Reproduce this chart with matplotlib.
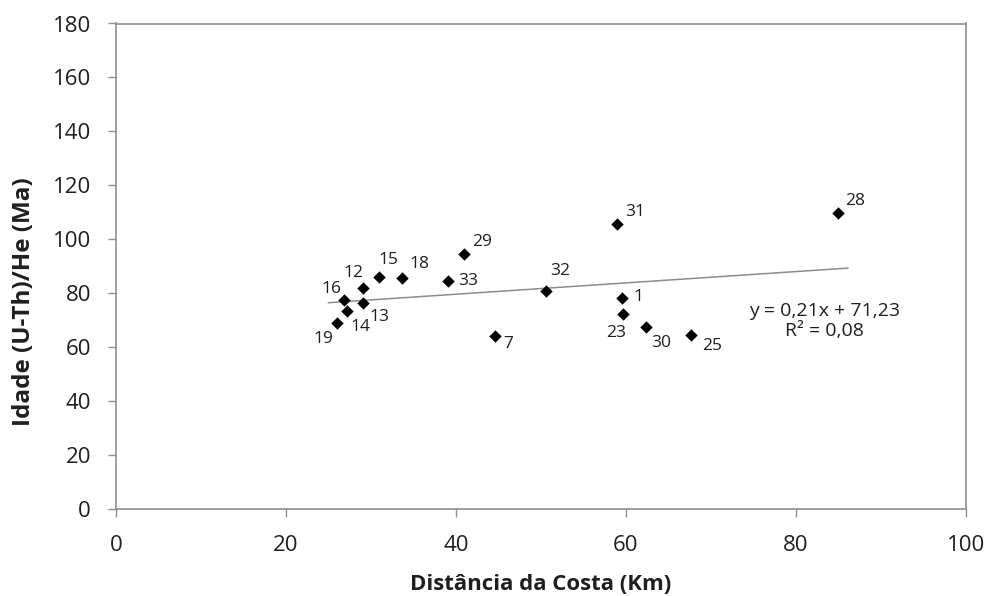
import matplotlib
matplotlib.use("Agg")
import matplotlib.pyplot as plt
import numpy as np

# Sample identifiers, distance to the coast (km) and (U-Th)/He ages (Ma)
sample_ids = ["29", "33", "18", "15", "12", "16", "13", "14", "19", "7",
              "31", "32", "1", "23", "30", "25", "28"]
distance_km = [40.9, 39.1, 33.6, 30.9, 29.0, 26.8, 29.0, 27.2, 26.0, 44.6,
               58.9, 50.6, 59.5, 59.7, 62.3, 67.7, 84.9]
age_ma = [94.7, 84.4, 85.8, 86.0, 81.9, 77.6, 76.3, 73.3, 69.0, 64.0,
          105.6, 81.0, 78.3, 72.4, 67.6, 64.6, 109.8]

# Linear trend reported for the data set
trend_slope = 0.21
trend_intercept = 71.23
trend_r2 = 0.08

x_ticks = [0, 20, 40, 60, 80, 100]
y_ticks = [0, 20, 40, 60, 80, 100, 120, 140, 160, 180]

# Label placement around each marker (pixels: right, down)
label_offsets = {
    "29": (18, -12), "33": (20, 0), "18": (18, -14), "15": (10, -17),
    "12": (-9, -15), "16": (-12, -11), "13": (17, 14), "14": (13, 16),
    "19": (-14, 16), "7": (13, 8), "31": (19, -12), "32": (14, -20),
    "1": (17, -1), "23": (-7, 19), "30": (16, 16), "25": (21, 11),
    "28": (17, -12),
}

plt.rcParams["font.family"] = ["Open Sans", "DejaVu Sans"]
text_color = "#1f1f1f"
axis_color = "#8f8f8f"

fig = plt.figure(figsize=(9.89, 5.96), dpi=100)
ax = fig.add_axes([116 / 989, 87 / 596, (966 - 116) / 989, (509 - 23.5) / 596])

ax.scatter(distance_km, age_ma, marker="D", s=40, color="black", zorder=3,
           linewidths=0)

x_fit = np.array([min(distance_km) - 1.0, max(distance_km) + 1.2])
ax.plot(x_fit, trend_slope * x_fit + trend_intercept, color="#8c8c8c",
        lw=1.1, zorder=2)

for sid, xv, yv in zip(sample_ids, distance_km, age_ma):
    dx, dy = label_offsets[sid]
    ax.annotate(sid, (xv, yv), xytext=(dx, -dy), textcoords="offset pixels",
                ha="center", va="center", fontsize=12.5, color=text_color)

eq_text = (f"y = {trend_slope:.2f}x + {trend_intercept:.2f}".replace(".", ",")
           + "\n" + f"R² = {trend_r2:.2f}".replace(".", ","))
ax.text(83.3, 69.8, eq_text, ha="center", va="center", fontsize=14,
        color=text_color, linespacing=1.15)

ax.set_xlim(0, 100)
ax.set_ylim(0, 180)
ax.set_xticks(x_ticks)
ax.set_yticks(y_ticks)
ax.tick_params(axis="both", direction="out", length=6, width=1,
               color=axis_color, labelsize=16, labelcolor=text_color)
ax.tick_params(axis="y", pad=12)
ax.tick_params(axis="x", pad=13)
for spine in ax.spines.values():
    spine.set_color(axis_color)
    spine.set_linewidth(1.2)

ax.set_xlabel("Distância da Costa (Km)", fontsize=16, fontweight="bold",
              color=text_color)
ax.set_ylabel("Idade (U-Th)/He (Ma)", fontsize=17.5, fontweight="bold",
              color=text_color)
ax.xaxis.set_label_coords(0.5, (509 - 585) / 485.5)
ax.xaxis.label.set_verticalalignment("center")
ax.yaxis.set_label_coords((24 - 116) / 850, (509 - 302) / 485.5)
ax.yaxis.label.set_verticalalignment("center")

fig.savefig("out.png", dpi=100)
